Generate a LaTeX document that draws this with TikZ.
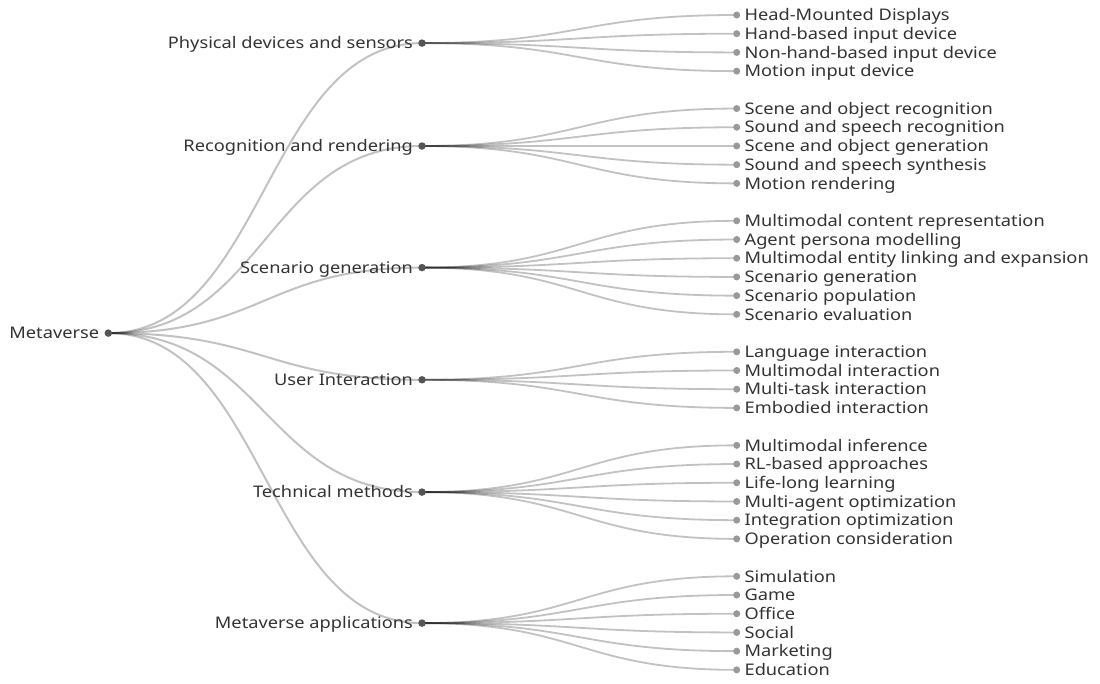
\documentclass[tikz,border=0pt]{standalone}
\usepackage{fontspec}
\setmainfont{Noto Sans}[FakeStretch=1.14]
\usetikzlibrary{backgrounds}
\definecolor{txt}{HTML}{333333}
\definecolor{pdot}{HTML}{555555}
\definecolor{ldot}{HTML}{999999}
\tikzset{
  pnode/.style={circle,fill=pdot,inner sep=0pt,minimum size=7.5pt},
  lnode/.style={circle,fill=ldot,inner sep=0pt,minimum size=7pt},
  lbl/.style={text=txt,inner sep=1pt,text height=11.4pt,text depth=0pt,font=\fontsize{16}{19}\selectfont},
  edge/.style={draw=black,draw opacity=0.24,line width=2pt},
}
\begin{document}
\begin{tikzpicture}[x=1pt,y=-1pt]
\useasboundingbox (0,0) rectangle (1100,683);
% root
\node[pnode,label={[lbl,label distance=4pt]left:Metaverse}] (m) at (108.3,333.1) {};
% level 1
\node[pnode,label={[lbl,label distance=4pt]left:Physical devices and sensors}] (p1) at (422,43.1) {};
\node[pnode,label={[lbl,label distance=4pt]left:Recognition and rendering}] (p2) at (422,146) {};
\node[pnode,label={[lbl,label distance=4pt]left:Scenario generation}] (p3) at (422,267.6) {};
\node[pnode,label={[lbl,label distance=4pt]left:User Interaction}] (p4) at (422,379.8) {};
\node[pnode,label={[lbl,label distance=4pt]left:Technical methods}] (p5) at (422,492.1) {};
\node[pnode,label={[lbl,label distance=4pt]left:Metaverse applications}] (p6) at (422,623.1) {};
% leaves
\foreach \s/\t in {0/Head-Mounted Displays,1/Hand-based input device,2/Non-hand-based input device,3/Motion input device,
  5/Scene and object recognition,6/Sound and speech recognition,7/Scene and object generation,8/Sound and speech synthesis,9/Motion rendering,
  11/Multimodal content representation,12/Agent persona modelling,13/Multimodal entity linking and expansion,14/Scenario generation,15/Scenario population,16/Scenario evaluation,
  18/Language interaction,19/Multimodal interaction,20/Multi-task interaction,21/Embodied interaction,
  23/Multimodal inference,24/RL-based approaches,25/Life-long learning,26/Multi-agent optimization,27/Integration optimization,28/Operation consideration,
  30/Simulation,31/Game,32/Office,33/Social,34/Marketing,35/Education}
  \node[lnode,label={[lbl,label distance=3pt]right:\t}] (a\s) at (736.7,{15+18.71*\s}) {};
\begin{pgfonlayer}{background}
\foreach \p in {1,...,6}
  \draw[edge] (m.center) .. controls ([xshift=157pt]m.center) and ([xshift=-157pt]p\p.center) .. (p\p.center);
\foreach \p/\list in {1/{0,1,2,3},2/{5,6,7,8,9},3/{11,12,13,14,15,16},4/{18,19,20,21},5/{23,24,25,26,27,28},6/{30,31,32,33,34,35}}
  \foreach \s in \list
    \draw[edge,line width=1.8pt] (p\p.center) .. controls ([xshift=157pt]p\p.center) and ([xshift=-157pt]a\s.center) .. (a\s.center);
\end{pgfonlayer}
\end{tikzpicture}
\end{document}
